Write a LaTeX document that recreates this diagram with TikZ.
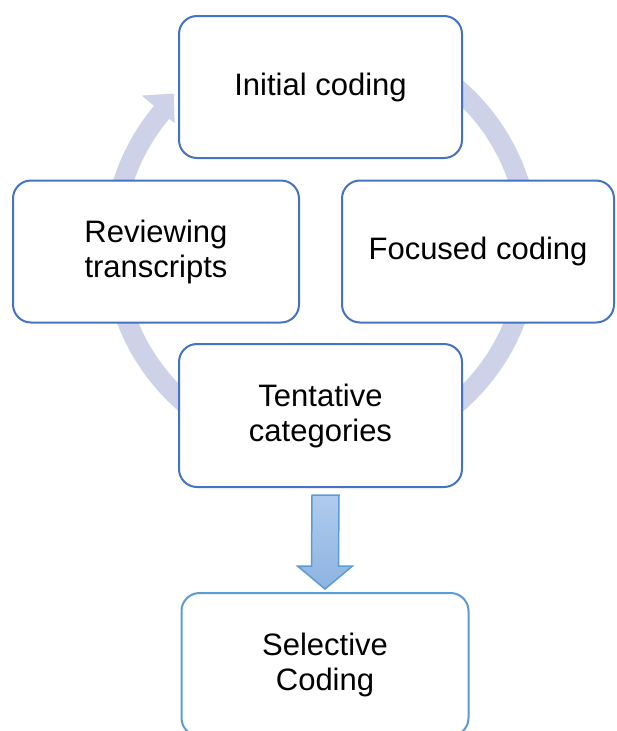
\documentclass[tikz,border=0pt]{standalone}
\usepackage{fontspec}
\setmainfont{Liberation Sans}
\usetikzlibrary{calc}

\definecolor{boxblue}{RGB}{68,114,196}
\definecolor{lightblue}{RGB}{91,155,213}
\definecolor{cyclefill}{RGB}{205,210,232}
\definecolor{arrtopc}{RGB}{176,203,236}
\definecolor{arrbotc}{RGB}{141,180,226}

\tikzset{
  stagebox/.style={draw=boxblue, line width=2pt, rounded corners=18pt, fill=white,
    align=center, font=\fontsize{31}{35}\selectfont},
  lastbox/.style={stagebox, draw=lightblue},
  blockarrow/.style={draw=lightblue, line width=1.5pt, top color=arrtopc, bottom color=arrbotc}
}

\begin{document}
\begin{tikzpicture}[x=1pt, y=-1pt]
    \useasboundingbox (0,0) rectangle (616,731);
    \clip (0,0) rectangle (616,731);
    \coordinate (ctr) at (321,246);

    % ring behind the stages
    \fill[cyclefill] ($(ctr)+(-85:218)$) arc[start angle=-85, end angle=220, radius=218]
      -- ($(ctr)+(220:234)$) -- ($(ctr)+(226:212)$) -- ($(ctr)+(220:191)$)
      -- ($(ctr)+(220:198)$) arc[start angle=220, end angle=-85, radius=198] -- cycle;

    \node[stagebox, minimum width=283pt, minimum height=142pt] (init) at (320.5,87) {Initial coding};
    \node[stagebox, minimum width=286pt, minimum height=142pt] (review) at (156,251.5) {Reviewing\\transcripts};
    \node[stagebox, minimum width=272pt, minimum height=142pt] (focus) at (478,251.5) {Focused coding};
    \node[stagebox, minimum width=283pt, minimum height=143pt] (tent) at (320.5,415.5) {Tentative\\categories};
    \node[lastbox, minimum width=287pt, minimum height=143pt] (sel) at (325,664.5) {Selective\\Coding};

    \coordinate (atop) at ($(tent.south)+(5,7)$);
    \coordinate (atip) at ($(sel.north)+(0,-3)$);
    \draw[blockarrow] ($(atop)+(-13.5,0)$) -- ($(atop)+(13.5,0)$) -- ($(atip)+(13.5,-23)$)
      -- ($(atip)+(27.5,-23)$) -- (atip) -- ($(atip)+(-27.5,-23)$) -- ($(atip)+(-13.5,-23)$) -- cycle;
\end{tikzpicture}
\end{document}
